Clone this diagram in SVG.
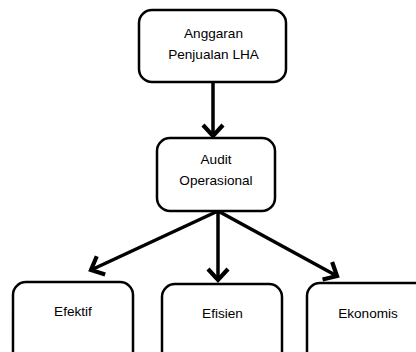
<svg xmlns="http://www.w3.org/2000/svg" width="416" height="352" viewBox="0 0 416 352">
<style>
.box{fill:#fff;stroke:#000;stroke-width:2.5}
.lbl{font-family:"Liberation Sans",Arial,sans-serif;font-size:13.6px;fill:#000;text-anchor:middle}
.edge{stroke:#000;stroke-width:3.5;fill:none;marker-end:url(#arr)}
</style>
<defs>
<marker id="arr" markerUnits="userSpaceOnUse" viewBox="-14 -12 18 24" refX="0" refY="0" markerWidth="18" markerHeight="24" orient="auto" overflow="visible">
<path d="M-11,-10 L0,0 L-11,10" fill="none" stroke="#000" stroke-width="4.2" stroke-linejoin="miter"/>
</marker>
</defs>
<rect width="416" height="352" fill="#fff"/>
<g id="connectors">
<line class="edge" x1="213" y1="82" x2="213" y2="136"/>
<line class="edge" x1="218" y1="211" x2="91" y2="270"/>
<line class="edge" x1="218" y1="211" x2="218" y2="280"/>
<line class="edge" x1="218" y1="211" x2="337" y2="276"/>
</g>
<g id="n1">
<rect class="box" x="139" y="10" width="147" height="72" rx="13"/>
<text class="lbl" x="213.5" y="38">Anggaran</text>
<text class="lbl" x="213.5" y="59">Penjualan LHA</text>
</g>
<g id="n2">
<rect class="box" x="157" y="138" width="118" height="73" rx="13"/>
<text class="lbl" x="216" y="164">Audit</text>
<text class="lbl" x="216" y="185">Operasional</text>
</g>
<g id="n3">
<rect class="box" x="13" y="282" width="120" height="90" rx="13"/>
<text class="lbl" x="73" y="316">Efektif</text>
</g>
<g id="n4">
<rect class="box" x="162" y="284" width="120" height="90" rx="13"/>
<text class="lbl" x="222.5" y="318">Efisien</text>
</g>
<g id="n5">
<rect class="box" x="307" y="283" width="130" height="90" rx="13"/>
<text class="lbl" x="368" y="318">Ekonomis</text>
</g>
</svg>
